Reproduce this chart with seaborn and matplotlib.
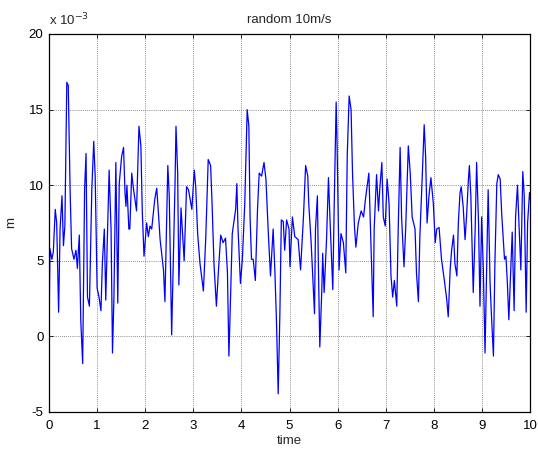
import matplotlib
matplotlib.use("Agg")
import matplotlib.pyplot as plt
import seaborn as sns
import pandas as pd

# time (s) and displacement (units of 1e-3 m)
time = [0.00, 0.02, 0.06, 0.09, 0.13, 0.16, 0.20, 0.23, 0.27, 0.30, 0.33, 0.37, 0.40, 0.42, 0.44,
        0.47, 0.52, 0.56, 0.59, 0.63, 0.66, 0.70, 0.74, 0.77, 0.80, 0.84, 0.89, 0.93, 0.96, 1.00,
        1.04, 1.08, 1.11, 1.15, 1.18, 1.23, 1.25, 1.29, 1.32, 1.35, 1.39, 1.43, 1.46, 1.51, 1.55,
        1.58, 1.60, 1.62, 1.66, 1.68, 1.72, 1.75, 1.82, 1.87, 1.91, 1.94, 1.975, 2.03, 2.065,
        2.10, 2.135, 2.20, 2.24, 2.27, 2.31, 2.38, 2.41, 2.47, 2.50, 2.55, 2.62, 2.64, 2.675,
        2.70, 2.745, 2.81, 2.86, 2.90, 2.97, 3.02, 3.05, 3.09, 3.14, 3.21, 3.26, 3.31, 3.36,
        3.39, 3.43, 3.48, 3.52, 3.57, 3.62, 3.67, 3.71, 3.74, 3.76, 3.81, 3.88, 3.905, 3.93,
        3.98, 4.02, 4.07, 4.12, 4.155, 4.18, 4.21, 4.245, 4.29, 4.335, 4.37, 4.42, 4.47, 4.51,
        4.56, 4.605, 4.66, 4.695, 4.73, 4.765, 4.80, 4.83, 4.87, 4.90, 4.94, 4.99, 5.01, 5.06,
        5.11, 5.18, 5.23, 5.29, 5.335, 5.38, 5.40, 5.45, 5.52, 5.54, 5.58, 5.60, 5.63, 5.67,
        5.69, 5.72, 5.77, 5.81, 5.84, 5.90, 5.93, 5.97, 5.99, 6.03, 6.07, 6.12, 6.17, 6.20,
        6.24, 6.28, 6.31, 6.35, 6.38, 6.43, 6.49, 6.54, 6.58, 6.65, 6.695, 6.74, 6.76, 6.81,
        6.85, 6.88, 6.92, 6.95, 6.99, 7.03, 7.07, 7.11, 7.145, 7.18, 7.23, 7.26, 7.30, 7.33,
        7.38, 7.415, 7.47, 7.51, 7.55, 7.61, 7.64, 7.68, 7.71, 7.76, 7.80, 7.83, 7.86, 7.90,
        7.94, 7.99, 8.03, 8.06, 8.11, 8.16, 8.22, 8.27, 8.30, 8.34, 8.37, 8.41, 8.44, 8.48,
        8.51, 8.545, 8.57, 8.61, 8.65, 8.68, 8.72, 8.74, 8.77, 8.82, 8.86, 8.89, 8.93, 8.96,
        8.995, 9.03, 9.065, 9.10, 9.13, 9.17, 9.20, 9.24, 9.27, 9.31, 9.34, 9.38, 9.41, 9.47,
        9.50, 9.53, 9.56, 9.60, 9.63, 9.67, 9.70, 9.74, 9.77, 9.81, 9.85, 9.88, 9.92, 9.95,
        9.99, 10.0]
disp = [0.2, 5.8, 5.1, 5.6, 8.4, 7.5, 1.6, 7.1, 9.3, 6.0, 7.3, 16.8, 16.6, 13.0, 9.5,
        5.8, 5.1, 5.7, 4.5, 6.7, 1.1, -1.8, 9.7, 12.1, 2.6, 2.0, 9.7, 12.9, 10.6, 3.2,
        2.6, 1.7, 4.9, 7.1, 2.4, 8.4, 11.0, 7.1, -1.1, 2.6, 11.5, 2.2, 10.1, 11.9, 12.5,
        9.5, 8.6, 10.0, 7.1, 7.1, 10.8, 9.9, 8.3, 13.9, 12.6, 8.2, 5.3, 7.5, 6.6,
        7.3, 7.1, 9.1, 9.8, 8.4, 6.4, 4.4, 2.3, 11.3, 9.3, 0.1, 10.1, 13.9, 10.8,
        3.4, 8.5, 5.0, 9.9, 9.7, 8.4, 11.0, 9.9, 6.8, 4.8, 3.0, 6.6, 11.7, 11.3,
        8.8, 4.8, 2.0, 4.2, 6.7, 6.2, 6.5, 4.2, -1.3, 0.9, 6.8, 8.4, 10.1, 7.1,
        3.5, 5.1, 8.8, 15.0, 13.9, 7.9, 5.1, 5.1, 3.7, 8.4, 10.8, 10.6, 11.5, 10.4,
        6.8, 4.0, 7.1, 4.4, 0.9, -3.8, 1.5, 7.7, 7.6, 5.7, 7.7, 7.1, 4.6, 7.9,
        6.6, 6.4, 4.4, 7.9, 11.3, 10.6, 8.8, 6.2, 1.5, 7.1, 9.3, 4.8, -0.7, 2.9,
        5.5, 2.9, 6.4, 10.5, 7.9, 3.1, 8.8, 15.5, 12.6, 4.4, 6.8, 6.2, 4.2, 11.9,
        15.9, 15.0, 10.8, 7.3, 5.9, 7.5, 8.3, 7.9, 9.1, 10.8, 5.9, 1.3, 7.1, 10.7,
        8.3, 9.9, 11.5, 7.9, 7.3, 10.4, 8.8, 4.0, 2.6, 3.7, 2.0, 7.1, 12.5, 7.9,
        4.6, 7.1, 12.6, 10.8, 7.9, 7.1, 4.2, 2.3, 6.6, 10.6, 14.0, 11.9, 7.5, 9.3,
        10.5, 8.8, 6.2, 7.1, 7.2, 5.1, 3.7, 2.4, 1.3, 4.4, 5.7, 6.7, 4.8, 4.0,
        7.5, 9.5, 9.9, 8.6, 6.4, 7.9, 10.4, 11.3, 9.3, 2.9, 7.1, 11.5, 7.5, 2.0,
        7.9, 4.4, -1.1, 4.8, 9.7, 3.5, 1.3, -1.3, 4.8, 10.1, 10.7, 10.4, 8.2, 5.1,
        5.3, 3.5, 1.1, 4.4, 6.9, 1.7, 7.9, 10.0, 7.5, 4.4, 10.9, 9.3, 1.6, 7.5,
        9.5, 9.1]

x_ticks = [0, 1, 2, 3, 4, 5, 6, 7, 8, 9, 10]
y_ticks = [-5, 0, 5, 10, 15, 20]

sns.set_style("white")
plt.rcParams['font.family'] = ['Liberation Sans', 'DejaVu Sans']

df = pd.DataFrame({"time": time, "m": disp})

fig = plt.figure(figsize=(5.38, 4.5), dpi=100)
ax = fig.add_axes([49/538, 38/450, 481/538, 378/450])
sns.lineplot(data=df, x="time", y="m", sort=False, estimator=None,
             color="#0000ff", linewidth=0.9, ax=ax)

ax.set_xlim(0, 10)
ax.set_ylim(-5, 20)
ax.set_xticks(x_ticks)
ax.set_yticks(y_ticks)
ax.set_xticklabels([str(v) for v in x_ticks])
ax.set_yticklabels([str(v) for v in y_ticks])
ax.grid(True, color="#666666", linestyle=(0, (1, 1.5)), linewidth=0.6)
ax.set_axisbelow(True)
for s in ax.spines.values():
    s.set_color("black")
    s.set_linewidth(0.9)
ax.tick_params(direction="in", length=3, width=0.6, labelsize=9.5, colors="black",
               top=True, right=True, bottom=True, left=True)
ax.tick_params(axis="x", pad=6)
ax.tick_params(axis="y", pad=4)
ax.set_xlabel("time", fontsize=9.5, labelpad=2)
ax.set_ylabel("m", fontsize=9.5, labelpad=8)
ax.set_title("random 10m/s", fontsize=9.5, pad=8)
ax.text(0.0, 1.015, r"x 10$^{-3}$", transform=ax.transAxes, fontsize=9.5,
        ha="left", va="bottom")

fig.savefig("out.png", dpi=100)
